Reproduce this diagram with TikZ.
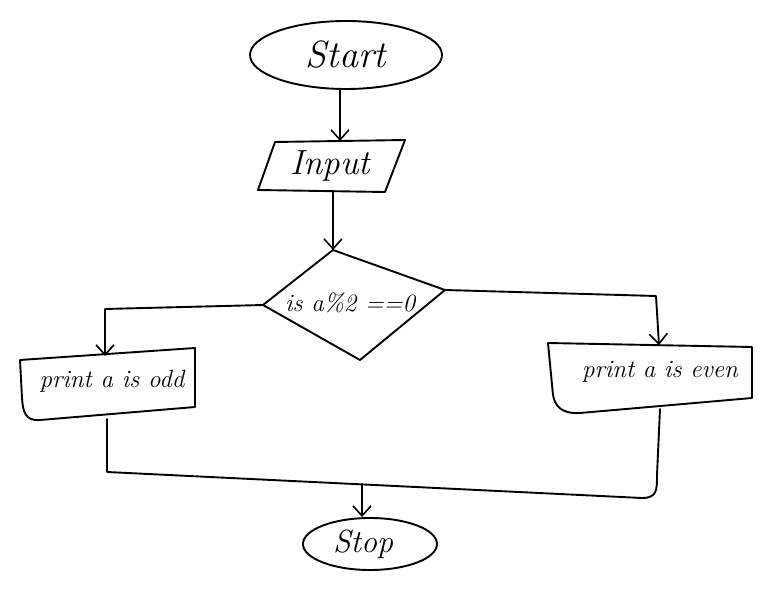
\documentclass[tikz,border=0pt]{standalone}
\usetikzlibrary{arrows.meta,shapes.geometric}
\begin{document}
\begin{tikzpicture}[x=1pt,y=-1pt, line width=1.9pt, line cap=round, line join=round,
  flow/.style={-{Straight Barb[length=10pt,width=18pt,line width=1.6pt]}},
  lbl/.style={font=\itshape\fontsize{25}{29}\selectfont},
  term/.style={draw, ellipse, inner sep=0pt}]
\useasboundingbox (0,0) rectangle (772,591);
% Start
\node[term, font=\itshape\fontsize{38}{42}\selectfont, minimum width=192pt, minimum height=68pt] (start) at (346,55) {Start};
% Input (parallelogram)
\draw (275,142) -- (405,140) -- (385,192) -- (258,190) -- cycle;
\node[font=\itshape\fontsize{35}{38}\selectfont] (input) at (330,166) {Input};
\coordinate (inT) at (340,141);
\coordinate (inB) at (333,191);
% Decision (diamond)
\draw (333,250) -- (445,290) -- (360,360) -- (263,305) -- cycle;
\node[font=\itshape\fontsize{25}{29}\selectfont] (dec) at (350,303) {is a\%2 ==0};
\coordinate (decT) at (333,250);
\coordinate (decL) at (263,305);
\coordinate (decR) at (445,290);
% print a is odd
\draw (20,360) -- (195,348) -- (195,407) -- (40,420) .. controls (25,421) and (23,412) .. (22,398) -- cycle;
\node[lbl] (odd) at (112,381) {print a is odd};
\coordinate (oddT) at (105,356);
\coordinate (oddB) at (107,419);
% print a is even
\draw (548,343) -- (752,347) -- (752,398) -- (580,413) .. controls (560,414) and (555,405) .. (553,395) -- cycle;
\node[lbl] (even) at (660,372) {print a is even};
\coordinate (evenT) at (659,345);
\coordinate (evenB) at (660,409);
% Stop
\node[term, minimum width=134pt, minimum height=52pt] (stop) at (370,544) {};
\node[font=\itshape\fontsize{32}{36}\selectfont] (stoptext) at (363,544) {Stop};
\coordinate (join) at (362,484);
% connectors
\draw[flow] (start.south -| inT) -- (inT);
\draw[flow] (inB) -- (decT);
\draw[flow] (decL) -- (105,309) -- (oddT);
\draw[flow] (decR) -- (656,296) -- (evenT);
\draw (oddB) -- (107,472) -- (642,498) .. controls (657,498) and (657,490) .. (657,475) -- (evenB);
\draw[flow] (join) -- (join |- stop.north);
\end{tikzpicture}
\end{document}
